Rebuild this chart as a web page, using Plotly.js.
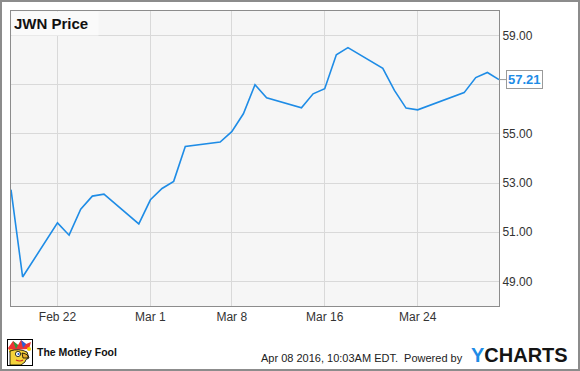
<!DOCTYPE html>
<html>
<head>
<meta charset="utf-8">
<script src="https://cdn.plot.ly/plotly-3.0.1.min.js"></script>
<style>
  html, body { margin: 0; padding: 0; background: #fff; }
  #wrap { position: relative; width: 580px; height: 371px; }
  #chart { width: 580px; height: 371px; }
  #frame { position: absolute; left: 0; top: 0; width: 580px; height: 371px; box-sizing: border-box; border: 2px solid #8c8c8c; pointer-events: none; }
</style>
</head>
<body>
<div id="wrap"><div id="chart"></div><div id="frame"></div></div>
<script>
// ---- data ----
const dates = [
  "2016-02-18","2016-02-19","2016-02-22","2016-02-23","2016-02-24","2016-02-25","2016-02-26",
  "2016-02-29","2016-03-01","2016-03-02","2016-03-03","2016-03-04",
  "2016-03-07","2016-03-08","2016-03-09","2016-03-10","2016-03-11",
  "2016-03-14","2016-03-15","2016-03-16","2016-03-17","2016-03-18",
  "2016-03-21","2016-03-22","2016-03-23","2016-03-24",
  "2016-03-28","2016-03-29","2016-03-30","2016-03-31"
];
const prices = [
  52.73, 49.18, 51.38, 50.88, 51.94, 52.47, 52.55,
  51.34, 52.32, 52.78, 53.07, 54.49,
  54.67, 55.09, 55.82, 57.00, 56.47,
  56.06, 56.63, 56.84, 58.22, 58.51,
  57.67, 56.77, 56.05, 55.98,
  56.68, 57.29, 57.50, 57.21
];
const xTickVals = ["2016-02-22","2016-03-01","2016-03-08","2016-03-16","2016-03-24"];
const xTickText = ["Feb 22","Mar 1","Mar 8","Mar 16","Mar 24"];
const yTickVals = [49, 51, 53, 55, 57, 59];
const yTickText = ["49.00", "51.00", "53.00", "55.00", "", "59.00"];
const seriesName = "JWN Price";

// ---- layout helpers ----
const W = 580, H = 371;
const M = {l: 11, r: 81, t: 11, b: 65};
const pw = W - M.l - M.r, ph = H - M.t - M.b;
const px = x => (x - M.l) / pw;
const py = y => (H - M.b - y) / ph;

const blue = "#1e8ce6";
const font = "Liberation Sans, Arial, sans-serif";
const last = prices.length - 1;

const logoSvg = '<svg xmlns="http://www.w3.org/2000/svg" width="26" height="27" viewBox="0 0 26 27">' +
  '<rect x="0.5" y="0.5" width="25" height="26" fill="#fff" stroke="#000"/>' +
  '<path d="M1 9 L6 2 L11 6 L14 1 L19 5 L24 3 L22 10 L2 11 Z" fill="#e33"/>' +
  '<path d="M6 2 L11 6 L9 10 Z" fill="#2a9d3a"/><path d="M14 1 L19 5 L16 9 Z" fill="#2b5fd9"/>' +
  '<circle cx="4" cy="12" r="2" fill="#f5d000"/><circle cx="22" cy="10" r="2" fill="#f5d000"/>' +
  '<path d="M3 12 Q12 9 20 13 L22 19 Q18 20 18 23 L14 26 L3 26 Z" fill="#f4d23a" stroke="#000" stroke-width="0.8"/>' +
  '<circle cx="11" cy="15" r="2.6" fill="#fff" stroke="#000" stroke-width="0.8"/><circle cx="11.5" cy="15" r="1.1" fill="#1b5fcf"/>' +
  '<path d="M15 14 Q22 15 21 19 L16 19 Z" fill="#e8b030" stroke="#000" stroke-width="0.8"/>' +
  '<path d="M9 21 Q13 23 16 21" fill="none" stroke="#c22" stroke-width="1.2"/>' +
  '</svg>';

const trace = {
  type: "scatter", mode: "lines", name: seriesName,
  x: dates, y: prices,
  line: {color: blue, width: 1.6},
  hoverinfo: "x+y"
};

const layout = {
  width: W, height: H,
  margin: M,
  paper_bgcolor: "#ffffff",
  plot_bgcolor: "#f6f6f6",
  showlegend: false,
  font: {family: font, size: 12, color: "#333"},
  xaxis: {
    type: "date",
    range: ["2016-02-18", "2016-03-31"],
    tickvals: xTickVals, ticktext: xTickText,
    showgrid: true, gridcolor: "#d9d9d9", gridwidth: 1,
    showline: true, linecolor: "#8c8c8c", linewidth: 1, mirror: true,
    ticks: "", zeroline: false,
    tickfont: {family: font, size: 12, color: "#333"}
  },
  yaxis: {
    range: [48, 60],
    side: "right",
    tickvals: yTickVals, ticktext: yTickText,
    showgrid: true, gridcolor: "#d9d9d9", gridwidth: 1,
    showline: true, linecolor: "#8c8c8c", linewidth: 1, mirror: true,
    ticks: "", zeroline: false,
    tickfont: {family: font, size: 12, color: "#333"}
  },
  images: [{
    source: "data:image/svg+xml;utf8," + encodeURIComponent(logoSvg),
    xref: "paper", yref: "paper",
    x: px(7), y: py(339), sizex: 26 / pw, sizey: 27 / ph,
    xanchor: "left", yanchor: "top", sizing: "stretch", layer: "above"
  }],
  annotations: [
    {
      text: "<b>" + seriesName + "</b>",
      xref: "paper", yref: "paper", x: 0, y: 1, xanchor: "left", yanchor: "top",
      showarrow: false, align: "left",
      width: 82, height: 19, borderpad: 2, bgcolor: "#fafafa",
      font: {family: font, size: 15, color: "#111"}
    },
    {
      text: "<b>" + prices[last].toFixed(2) + "</b>",
      xref: "x", yref: "y", x: dates[last], y: prices[last],
      xanchor: "left", yanchor: "middle",
      showarrow: true, arrowhead: 0, arrowwidth: 1, arrowcolor: "#9a9a9a",
      ax: 7, ay: 0, standoff: 0,
      bgcolor: "#ffffff", bordercolor: "#9a9a9a", borderwidth: 1, borderpad: 1,
      font: {family: font, size: 13, color: blue}
    },
    {
      text: "<b>The Motley Fool</b>",
      xref: "paper", yref: "paper", x: px(35), y: py(352), xanchor: "left", yanchor: "middle",
      showarrow: false, font: {family: font, size: 10.5, color: "#111"}
    },
    {
      text: "Apr 08 2016, 10:03AM EDT.  Powered by",
      xref: "paper", yref: "paper", x: px(465), y: py(358), xanchor: "right", yanchor: "middle",
      showarrow: false, font: {family: font, size: 11, color: "#222"}
    },
    {
      text: "<b><span style=\"color:" + blue + "\">Y</span>CHARTS</b>",
      xref: "paper", yref: "paper", x: px(469), y: py(355), xanchor: "left", yanchor: "middle",
      showarrow: false, font: {family: font, size: 20, color: "#141414"}
    }
  ]
};

Plotly.newPlot("chart", [trace], layout, {displayModeBar: false, staticPlot: true});
</script>
</body>
</html>
